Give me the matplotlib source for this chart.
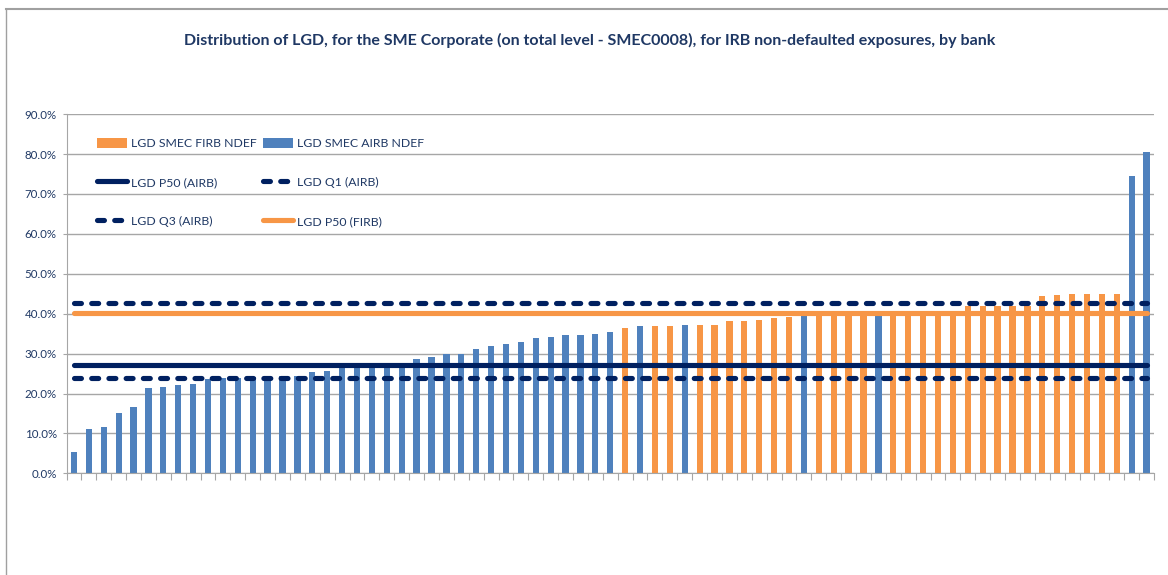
import numpy as np
import matplotlib
matplotlib.use("Agg")
import matplotlib.pyplot as plt
from matplotlib.lines import Line2D
from matplotlib.patches import Patch

# ---- data ----
title = ("Distribution of LGD, for the SME Corporate (on total level - SMEC0008), "
         "for IRB non-defaulted exposures, by bank")

lgd_values = [5.3, 11.1, 11.5, 15.2, 16.5, 21.4, 21.6, 22.2, 22.4, 23.7,
              23.8, 24.0, 24.1, 24.3, 24.5, 24.5, 25.3, 25.6, 26.6, 26.8,
              27.1, 27.3, 27.7, 28.6, 29.1, 29.9, 29.9, 31.2, 31.8, 32.5,
              32.8, 33.8, 34.1, 34.7, 34.7, 34.9, 35.4, 36.4, 36.9, 36.9,
              36.9, 37.2, 37.2, 37.2, 38.2, 38.2, 38.5, 38.9, 39.2, 39.4,
              40.0, 40.0, 40.0, 40.0, 39.6, 40.0, 40.0, 40.1, 40.2, 40.3,
              41.9, 42.0, 42.0, 41.9, 42.0, 44.5, 44.8, 45.0, 45.0, 45.0,
              45.0, 74.6, 80.6]
approach = (["AIRB"] * 37 + ["FIRB", "AIRB", "FIRB", "FIRB", "AIRB"]
            + ["FIRB"] * 7 + ["AIRB"] + ["FIRB"] * 4 + ["AIRB"]
            + ["FIRB"] * 16 + ["AIRB", "AIRB"])

firb_ndef = [v if a == "FIRB" else np.nan for v, a in zip(lgd_values, approach)]
airb_ndef = [v if a == "AIRB" else np.nan for v, a in zip(lgd_values, approach)]

p50_airb = 27.1
q1_airb = 23.8
q3_airb = 42.8
p50_firb = 40.3

yticks = [0, 10, 20, 30, 40, 50, 60, 70, 80, 90]
ytick_labels = ["0.0%", "10.0%", "20.0%", "30.0%", "40.0%", "50.0%",
                "60.0%", "70.0%", "80.0%", "90.0%"]

# ---- style ----
ORANGE = "#F79646"
BLUE = "#4F81BD"
NAVY = "#002060"
TEXT = "#1F3864"
GRID = "#A6A6A6"
FONT = "Lato"

fig = plt.figure(figsize=(11.68, 5.75), dpi=100)
ax = fig.add_axes([66.5 / 1168, 1 - 473.3 / 575, (1154 - 66.5) / 1168, (473.3 - 114.2) / 575])

n = len(lgd_values)
x = np.arange(n)
bw = 0.42
ax.bar(x, firb_ndef, width=bw, color=ORANGE, zorder=2, label="LGD SMEC FIRB NDEF")
ax.bar(x, airb_ndef, width=bw, color=BLUE, zorder=2, label="LGD SMEC AIRB NDEF")

lw = 3.7
xs = [x[0], x[-1]]
l_p50a, = ax.plot(xs, [p50_airb] * 2, color=NAVY, lw=lw, solid_capstyle="round",
                  zorder=3, label="LGD P50 (AIRB)")
l_q1, = ax.plot(xs, [q1_airb] * 2, color=NAVY, lw=lw, dashes=(1.35, 2.0),
                dash_capstyle="round", zorder=3, label="LGD Q1 (AIRB)")
l_q3, = ax.plot(xs, [q3_airb] * 2, color=NAVY, lw=lw, dashes=(1.35, 2.0),
                dash_capstyle="round", zorder=3, label="LGD Q3 (AIRB)")
l_p50f, = ax.plot(xs, [p50_firb] * 2, color=ORANGE, lw=lw, solid_capstyle="round",
                  zorder=3, label="LGD P50 (FIRB)")

ax.set_xlim(-0.5, n - 0.5)
ax.set_ylim(0, 90)
ax.set_yticks(yticks)
ax.set_yticklabels(ytick_labels, fontfamily=FONT, fontsize=8.3, color=TEXT)
ax.set_xticks(np.arange(n + 1) - 0.5, minor=False)
ax.set_xticklabels([])
ax.tick_params(axis="x", length=5, width=0.8, color=GRID, direction="out")
ax.tick_params(axis="y", length=3, width=0.8, color=GRID, pad=4)
ax.yaxis.grid(True, color=GRID, lw=1.0, zorder=0)
ax.set_axisbelow(True)
for s in ["top", "right"]:
    ax.spines[s].set_visible(False)
ax.spines["left"].set_color(GRID)
ax.spines["bottom"].set_color(GRID)

# legend
h_firb = Patch(facecolor=ORANGE, edgecolor="none")
h_airb = Patch(facecolor=BLUE, edgecolor="none")
handles = [h_firb, l_p50a, l_q3, h_airb, l_q1, l_p50f]
labels = ["LGD SMEC FIRB NDEF", "LGD P50 (AIRB)", "LGD Q3 (AIRB)",
          "LGD SMEC AIRB NDEF", "LGD Q1 (AIRB)", "LGD P50 (FIRB)"]
leg = ax.legend(handles, labels, ncol=2, frameon=False,
                loc="upper left", bbox_to_anchor=(26 / 1087.5, 1 - 18.5 / 359),
                prop={"family": FONT, "size": 8.8},
                handlelength=2.4, handleheight=0.9, handletextpad=0.35,
                labelspacing=2.27, columnspacing=0.55, borderaxespad=0)
for t in leg.get_texts():
    t.set_color(TEXT)

fig.text(590 / 1168, 1 - 40 / 575, title, ha="center", va="center",
         fontfamily=FONT, fontweight="bold", fontsize=11.5, color=TEXT)

# outer chart frame
fig.add_artist(Line2D([6 / 1168, 1], [1 - 8.5 / 575] * 2, color="#A0A0A0", lw=1.5))
fig.add_artist(Line2D([6 / 1168] * 2, [0, 1 - 8.5 / 575], color="#A0A0A0", lw=1.0))

fig.savefig("out.png", dpi=100)
